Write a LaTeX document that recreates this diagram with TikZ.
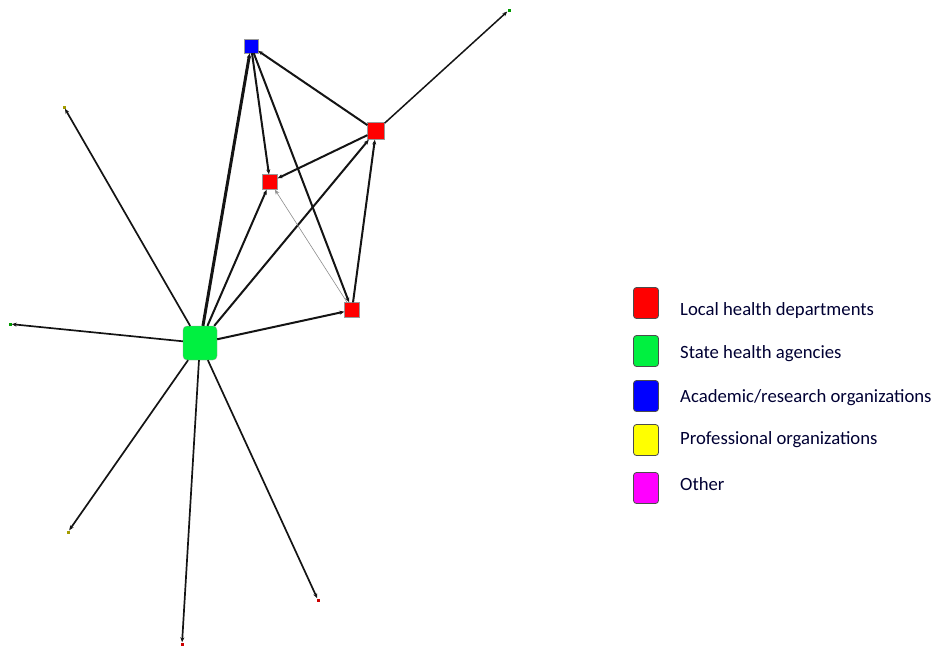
\documentclass[tikz,border=0pt]{standalone}
\usepackage{fontspec}
\setmainfont{Carlito}
\usetikzlibrary{arrows.meta}
\definecolor{lhd}{RGB}{255,0,0}
\definecolor{sha}{RGB}{0,240,64}
\definecolor{aro}{RGB}{0,0,255}
\definecolor{pro}{RGB}{255,255,0}
\definecolor{oth}{RGB}{255,0,255}
\definecolor{edgec}{RGB}{20,20,20}
\begin{document}
\begin{tikzpicture}[x=1pt,y=-1pt,
  nodebox/.style={draw=black!40,line width=0.3pt,inner sep=0pt,minimum size=#1},
  tiny/.style={inner sep=0pt,minimum size=3pt},
  link/.style={draw=edgec,line width=2pt,-{Stealth[length=5pt,width=4pt]}},
  thinlink/.style={draw=black!45,line width=0.6pt,-{Stealth[length=5pt,width=4pt]}},
  legbox/.style={draw=black!70,line width=0.8pt,rounded corners=3pt,minimum width=25pt,minimum height=31pt,inner sep=0pt},
  legtxt/.style={anchor=west,font=\fontsize{18.7}{20}\selectfont,text=black!80!blue,inner sep=0pt}]
\useasboundingbox (0,0) rectangle (934,648);
% nodes
\node[nodebox=14pt,fill=aro] (B) at (251,46) {};
\node[nodebox=17pt,fill=lhd] (R1) at (376,131) {};
\node[nodebox=15pt,fill=lhd] (R2) at (270,182) {};
\node[nodebox=15pt,fill=lhd] (R3) at (352,310) {};
\node[nodebox=34pt,fill=sha,rounded corners=4pt] (G) at (200,343) {};
% outer endpoints
\node[tiny,fill=olive!80!yellow] (TL) at (64,107) {};
\node[tiny,fill=green!60!black] (L) at (10,324) {};
\node[tiny,fill=olive!80!yellow] (BL) at (68,532) {};
\node[tiny,fill=red!80!black] (BT) at (182,644) {};
\node[tiny,fill=red!80!black] (BR) at (318,600) {};
\node[tiny,fill=green!60!black] (TR) at (509,10) {};
% edges
\draw[link,line width=3pt] (G) -- (B);
\draw[link] (R1) -- (B);
\draw[link] (B) -- (R2);
\draw[link] (B) -- (R3);
\draw[link] (R1) -- (R2);
\draw[link] (G) -- (R2);
\draw[link] (G) -- (R1);
\draw[link] (R3) -- (R1);
\draw[thinlink] (R3) -- (R2);
\draw[link] (G) -- (R3);
\draw[link,line width=1.5pt] (R1) -- (TR);
\draw[link,line width=1.7pt] (G) -- (TL);
\draw[link,line width=1.7pt] (G) -- (L);
\draw[link,line width=1.7pt] (G) -- (BL);
\draw[link,line width=1.7pt] (G) -- (BT);
\draw[link,line width=1.7pt] (G) -- (BR);
% legend
\node[legbox,fill=lhd] (k1) at (646,303) {};
\node[legbox,fill=sha] (k2) at (646,351) {};
\node[legbox,fill=aro] (k3) at (646,396) {};
\node[legbox,fill=pro] (k4) at (646,440) {};
\node[legbox,fill=oth] (k5) at (646,488) {};
\node[legtxt] (t1) at (680,311) {Local health departments};
\node[legtxt] (t2) at (680,354) {State health agencies};
\node[legtxt] (t3) at (680,398) {Academic/research organizations};
\node[legtxt] (t4) at (680,440) {Professional organizations};
\node[legtxt] (t5) at (680,484) {Other};
\end{tikzpicture}
\end{document}
